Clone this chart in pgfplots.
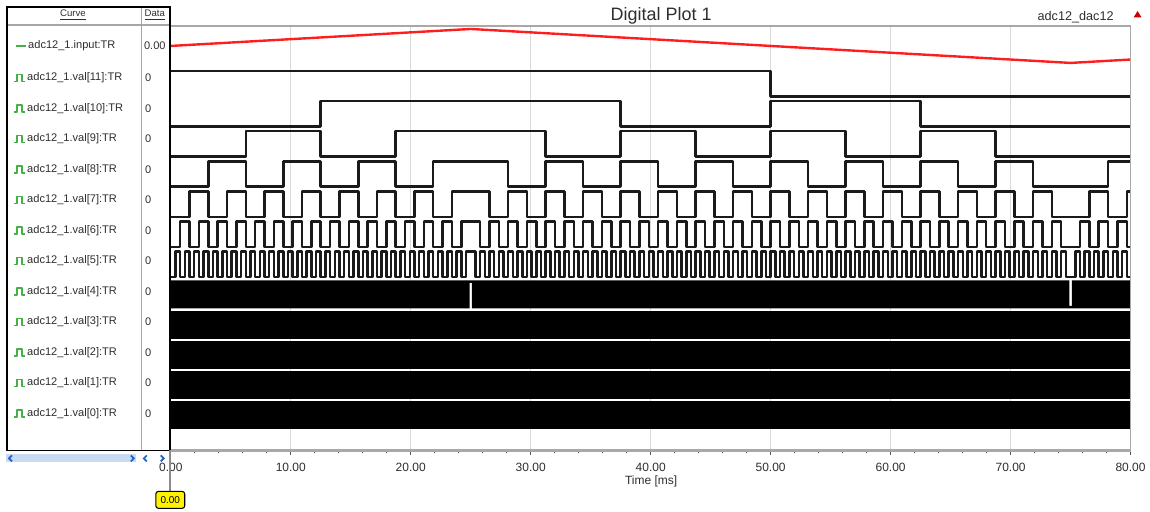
\documentclass[border=0pt]{standalone}
\usepackage{pgfplots}
\pgfplotsset{compat=1.18}
\usepackage{fontspec}
\setmainfont{Liberation Sans}
\definecolor{wavec}{HTML}{1A1A1A}
\definecolor{gridc}{HTML}{DADADA}
\definecolor{axc}{HTML}{A8A8A8}
\definecolor{txt}{HTML}{2E2E2E}
\definecolor{iconc}{HTML}{45B045}
\definecolor{sbar}{HTML}{C8DBF2}
\definecolor{sarrow}{HTML}{1F5FC8}
\definecolor{redline}{HTML}{FF1E1E}
\definecolor{cursorc}{HTML}{8C8C8C}
\pgfplotsset{
  wave/.style={draw=wavec, line width=1.9pt, const plot, line join=round},
  blk/.style={fill=black, draw=none},
}
\begin{document}
\begin{tikzpicture}
\begin{scope}[x=0.75pt,y=0.75pt]
\path[use as bounding box] (0,0) rectangle (1150,512);
\end{scope}
\begin{axis}[
  at={(128.25pt,45.75pt)}, anchor=south west,
  scale only axis, width=720.75pt, height=318.75pt,
  xmin=0, xmax=80, ymin=0, ymax=425,
  axis line style={draw=none},
  xtick={0,10,...,80},
  xticklabels={0.00,10.00,20.00,30.00,40.00,50.00,60.00,70.00,80.00},
  minor x tick num=4,
  ytick=\empty,
  xtick pos=left,
  tick align=outside,
  major tick length=3.5pt, minor tick length=2.2pt,
  every tick/.style={draw=black!65, line width=0.7pt},
  xticklabel style={font=\fontsize{9}{10}\selectfont, text=txt, yshift=-2.5pt},
  xmajorgrids, grid style={draw=gridc, line width=0.75pt},
]
% input (red triangle wave)
\addplot[draw=redline, line width=1.8pt, y filter/.expression={405+17*y}] coordinates {(0,0) (25,1) (75,-1) (80,-0.8)};
% val[11]
\addplot[wave, y filter/.expression={354.5+25.5*y}] coordinates {(0,1) (50,0) (80,0)};
% val[10]
\addplot[wave, y filter/.expression={324.35+25.5*y}] coordinates {(0,0) (12.5,1) (37.5,0) (50,1) (62.5,0) (80,0)};
% val[9]
\addplot[wave, y filter/.expression={294.2+25.5*y}] coordinates {(0,0) (6.25,1) (12.5,0) (18.75,1) (31.25,0) (37.5,1) (43.75,0) (50,1) (56.25,0) (62.5,1) (68.75,0) (80,0)};
% val[8]
\addplot[wave, y filter/.expression={264.05+25.5*y}] coordinates {(0,0) (3.125,1) (6.25,0) (9.375,1) (12.5,0) (15.625,1) (18.75,0) (21.875,1) (28.125,0) (31.25,1) (34.375,0) (37.5,1) (40.625,0) (43.75,1) (46.875,0) (50,1) (53.125,0) (56.25,1) (59.375,0) (62.5,1) (65.625,0) (68.75,1) (71.875,0) (78.125,1) (80,1)};
% val[7]
\addplot[wave, y filter/.expression={233.9+25.5*y}] coordinates {(0,0) (1.5625,1) (3.125,0) (4.6875,1) (6.25,0) (7.8125,1) (9.375,0) (10.9375,1) (12.5,0) (14.0625,1) (15.625,0) (17.1875,1) (18.75,0) (20.3125,1) (21.875,0) (23.4375,1) (26.5625,0) (28.125,1) (29.6875,0) (31.25,1) (32.8125,0) (34.375,1) (35.9375,0) (37.5,1) (39.0625,0) (40.625,1) (42.1875,0) (43.75,1) (45.3125,0) (46.875,1) (48.4375,0) (50,1) (51.5625,0) (53.125,1) (54.6875,0) (56.25,1) (57.8125,0) (59.375,1) (60.9375,0) (62.5,1) (64.0625,0) (65.625,1) (67.1875,0) (68.75,1) (70.3125,0) (71.875,1) (73.4375,0) (76.5625,1) (78.125,0) (79.6875,1) (80,1)};
% val[6]
\addplot[wave, y filter/.expression={203.75+25.5*y}] coordinates {(0,0) (0.78125,1) (1.5625,0) (2.34375,1) (3.125,0) (3.90625,1) (4.6875,0) (5.46875,1) (6.25,0) (7.03125,1) (7.8125,0) (8.59375,1) (9.375,0) (10.15625,1) (10.9375,0) (11.71875,1) (12.5,0) (13.28125,1) (14.0625,0) (14.84375,1) (15.625,0) (16.40625,1) (17.1875,0) (17.96875,1) (18.75,0) (19.53125,1) (20.3125,0) (21.09375,1) (21.875,0) (22.65625,1) (23.4375,0) (24.21875,1)
(25.78125,0) (26.5625,1) (27.34375,0) (28.125,1) (28.90625,0) (29.6875,1) (30.46875,0) (31.25,1) (32.03125,0) (32.8125,1) (33.59375,0) (34.375,1) (35.15625,0) (35.9375,1) (36.71875,0) (37.5,1) (38.28125,0) (39.0625,1) (39.84375,0) (40.625,1) (41.40625,0) (42.1875,1) (42.96875,0) (43.75,1) (44.53125,0) (45.3125,1) (46.09375,0) (46.875,1) (47.65625,0) (48.4375,1) (49.21875,0) (50,1) (50.78125,0) (51.5625,1) (52.34375,0) (53.125,1) (53.90625,0) (54.6875,1) (55.46875,0) (56.25,1) (57.03125,0) (57.8125,1) (58.59375,0) (59.375,1) (60.15625,0) (60.9375,1) (61.71875,0) (62.5,1) (63.28125,0) (64.0625,1) (64.84375,0) (65.625,1) (66.40625,0) (67.1875,1) (67.96875,0) (68.75,1) (69.53125,0) (70.3125,1) (71.09375,0) (71.875,1) (72.65625,0) (73.4375,1) (74.21875,0)
(75.78125,1) (76.5625,0) (77.34375,1) (78.125,0) (78.90625,1) (79.6875,0) (80,0)};
% val[5]
\addplot[wave, y filter/.expression={173.6+25.5*y}] coordinates {(0,0) (0.390625,1) (0.78125,0) (1.171875,1) (1.5625,0) (1.953125,1) (2.34375,0) (2.734375,1) (3.125,0) (3.515625,1) (3.90625,0) (4.296875,1) (4.6875,0) (5.078125,1) (5.46875,0) (5.859375,1) (6.25,0) (6.640625,1) (7.03125,0) (7.421875,1) (7.8125,0) (8.203125,1) (8.59375,0) (8.984375,1) (9.375,0) (9.765625,1) (10.15625,0) (10.546875,1) (10.9375,0) (11.328125,1) (11.71875,0) (12.109375,1) (12.5,0) (12.890625,1) (13.28125,0) (13.671875,1) (14.0625,0) (14.453125,1) (14.84375,0) (15.234375,1) (15.625,0) (16.015625,1) (16.40625,0) (16.796875,1) (17.1875,0) (17.578125,1) (17.96875,0) (18.359375,1) (18.75,0) (19.140625,1) (19.53125,0) (19.921875,1) (20.3125,0) (20.703125,1) (21.09375,0) (21.484375,1) (21.875,0) (22.265625,1) (22.65625,0) (23.046875,1) (23.4375,0) (23.828125,1) (24.21875,0) (24.609375,1)
(25.390625,0) (25.78125,1) (26.171875,0) (26.5625,1) (26.953125,0) (27.34375,1) (27.734375,0) (28.125,1) (28.515625,0) (28.90625,1) (29.296875,0) (29.6875,1) (30.078125,0) (30.46875,1) (30.859375,0) (31.25,1) (31.640625,0) (32.03125,1) (32.421875,0) (32.8125,1) (33.203125,0) (33.59375,1) (33.984375,0) (34.375,1) (34.765625,0) (35.15625,1) (35.546875,0) (35.9375,1) (36.328125,0) (36.71875,1) (37.109375,0) (37.5,1) (37.890625,0) (38.28125,1) (38.671875,0) (39.0625,1) (39.453125,0) (39.84375,1) (40.234375,0) (40.625,1) (41.015625,0) (41.40625,1) (41.796875,0) (42.1875,1) (42.578125,0) (42.96875,1) (43.359375,0) (43.75,1) (44.140625,0) (44.53125,1) (44.921875,0) (45.3125,1) (45.703125,0) (46.09375,1) (46.484375,0) (46.875,1) (47.265625,0) (47.65625,1) (48.046875,0) (48.4375,1) (48.828125,0) (49.21875,1) (49.609375,0) (50,1) (50.390625,0) (50.78125,1) (51.171875,0) (51.5625,1) (51.953125,0) (52.34375,1) (52.734375,0) (53.125,1) (53.515625,0) (53.90625,1) (54.296875,0) (54.6875,1) (55.078125,0) (55.46875,1) (55.859375,0) (56.25,1) (56.640625,0) (57.03125,1) (57.421875,0) (57.8125,1) (58.203125,0) (58.59375,1) (58.984375,0) (59.375,1) (59.765625,0) (60.15625,1) (60.546875,0) (60.9375,1) (61.328125,0) (61.71875,1) (62.109375,0) (62.5,1) (62.890625,0) (63.28125,1) (63.671875,0) (64.0625,1) (64.453125,0) (64.84375,1) (65.234375,0) (65.625,1) (66.015625,0) (66.40625,1) (66.796875,0) (67.1875,1) (67.578125,0) (67.96875,1) (68.359375,0) (68.75,1) (69.140625,0) (69.53125,1) (69.921875,0) (70.3125,1) (70.703125,0) (71.09375,1) (71.484375,0) (71.875,1) (72.265625,0) (72.65625,1) (73.046875,0) (73.4375,1) (73.828125,0) (74.21875,1) (74.609375,0)
(75.390625,1) (75.78125,0) (76.171875,1) (76.5625,0) (76.953125,1) (77.34375,0) (77.734375,1) (78.125,0) (78.515625,1) (78.90625,0) (79.296875,1) (79.6875,0) (80,0)};
% val[4] .. val[0]: dense toggling, rendered as solid bands
\addplot[blk, y filter/.expression={143.45+25.5*y}] coordinates {(0,-0.05) (24.9,-0.05) (24.9,0.95) (25.1,0.95) (25.1,-0.05) (80,-0.05) (80,1.05) (75.1,1.05) (75.1,0.05) (74.9,0.05) (74.9,1.05) (0,1.05)};
\addplot[blk, y filter/.expression={113.3+25.5*y}] coordinates {(0,-0.05) (80,-0.05) (80,1.05) (0,1.05)};
\addplot[blk, y filter/.expression={83.15+25.5*y}] coordinates {(0,-0.05) (80,-0.05) (80,1.05) (0,1.05)};
\addplot[blk, y filter/.expression={53+25.5*y}] coordinates {(0,-0.05) (80,-0.05) (80,1.05) (0,1.05)};
\addplot[blk, y filter/.expression={22.85+25.5*y}] coordinates {(0,-0.05) (80,-0.05) (80,1.05) (0,1.05)};
\end{axis}
\begin{scope}[x=0.75pt,y=0.75pt]
% plot frame
\draw[axc, line width=1.2pt] (170,486) -- (1132,486) -- (1132,61);
\draw[axc, line width=1.6pt] (170,61) -- (1132,61);
% left panel
\draw[gray!70, line width=0.8pt] (7,487) -- (170,487);
\draw[gray!70, line width=0.8pt] (142,505) -- (142,61);
\draw[black, line width=1.2pt] (7,505) rectangle (170,61);
\draw[black, line width=1.6pt] (170,505) -- (170,61);
\node[text=txt, font=\fontsize{7.2}{8}\selectfont] at (73,497) {\underline{Curve}};
\node[text=txt, font=\fontsize{7.2}{8}\selectfont] at (155,497) {\underline{Data}};
% input row
\draw[iconc, line width=1pt] (16,466) -- (26,466);
\node[anchor=west, text=txt, font=\fontsize{8.3}{9}\selectfont, inner sep=0pt] at (28,466) {adc12\_1.input:TR};
\node[anchor=west, text=txt, font=\fontsize{8.3}{9}\selectfont, inner sep=0pt] at (144,466) {0.00};
% bit rows
\foreach \lab [count=\i from 0] in {11,10,9,8,7,6,5,4,3,2,1,0}{
  \pgfmathsetmacro{\yy}{512-78-30.55*\i}
  \draw[iconc, line width=1pt, line join=round] (14,\yy-3.5) -- (17,\yy-3.5) -- (17,\yy+3.5) -- (22,\yy+3.5) -- (22,\yy-3.5) -- (25,\yy-3.5);
  \node[anchor=west, text=txt, font=\fontsize{8.3}{9}\selectfont, inner sep=0pt] at (27,\yy) {adc12\_1.val[\lab]:TR};
  \node[anchor=west, text=txt, font=\fontsize{8.3}{9}\selectfont, inner sep=0pt] at (145,\yy) {0};
}
% scroll bar
\fill[sbar] (6,49) rectangle (136,57);
\draw[sarrow, line width=1.3pt] (12,56) -- (9,53) -- (12,50);
\draw[sarrow, line width=1.3pt] (131,56) -- (134,53) -- (131,50);
\draw[sarrow, line width=1.3pt] (147,56) -- (144,53) -- (147,50);
\draw[sarrow, line width=1.3pt] (161,56) -- (164,53) -- (161,50);
% cursor
\draw[cursorc, line width=1.5pt] (170,61) -- (170,20);
\draw[black, line width=0.8pt, fill=yellow, rounded corners=2] (156,3) rectangle (185,20);
\node[font=\fontsize{7.5}{8}\selectfont] at (170.5,11.5) {0.00};
% titles
\node[text=txt, font=\fontsize{13.5}{15}\selectfont] at (662,496) {Digital Plot 1};
\node[text=txt, font=\fontsize{9.5}{11}\selectfont] at (1077,495) {adc12\_dac12};
\fill[red!80!black] (1135,494.5) -- (1143,494.5) -- (1139,501) -- cycle;
\node[text=txt, font=\fontsize{9}{10}\selectfont] at (652,30) {Time [ms]};
\end{scope}
\end{tikzpicture}
\end{document}
